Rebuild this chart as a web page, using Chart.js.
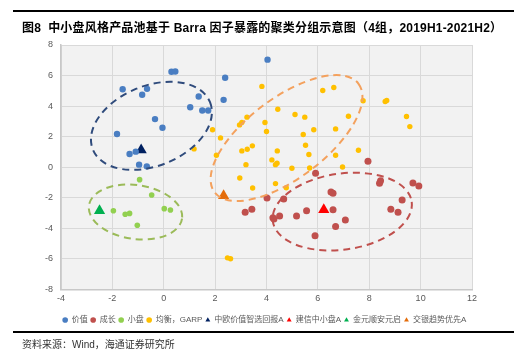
<!DOCTYPE html>
<html><head><meta charset="utf-8">
<script src="https://cdn.jsdelivr.net/npm/chart.js@4"></script>
<style>
html,body{margin:0;padding:0;background:#fff;}
#wrap{position:relative;width:529px;height:358px;overflow:hidden;}
#cw{position:absolute;left:0;top:0;width:529px;height:358px;z-index:1;}
.title{position:absolute;z-index:5;left:22px;top:18px;line-height:14px;font:bold 12px "Liberation Sans","Noto Sans CJK SC",sans-serif;letter-spacing:0.2px;color:#000;white-space:nowrap;}
.line{position:absolute;z-index:5;left:13px;width:501px;height:0;border-top:2px solid #000;}
.src{position:absolute;z-index:5;left:22px;top:336px;line-height:12px;font:10px "Liberation Sans","Noto Sans CJK SC",sans-serif;color:#333;white-space:nowrap;}
</style></head>
<body>
<div id="wrap">
<div id="cw"><canvas id="c"></canvas></div>
<div class="title">图8&nbsp;&nbsp;中小盘风格产品池基于 Barra 因子暴露的聚类分组示意图（4组，2019H1-2021H2）</div>
<div class="line" style="top:331px"></div>
<div class="src">资料来源：Wind，海通证券研究所</div>
</div>
<script>
// ---- data ----
const seriesNames = ["价值","成长","小盘","均衡，GARP","中欧价值智选回报A","建信中小盘A","金元顺安元启","交银趋势优先A"];
const xTicks = [-4,-2,0,2,4,6,8,10,12];
const yTicks = [-8,-6,-4,-2,0,2,4,6,8];

const valuePts = [[0.3,6.25],[0.45,6.27],[-1.6,5.1],[-0.65,5.13],[-0.84,4.74],[2.39,5.86],[2.33,4.41],[1.36,4.63],[1.03,3.93],[1.5,3.71],[1.73,3.71],[-0.34,3.15],[-0.05,2.58],[-1.82,2.18],[-1.33,0.87],[-1.09,1.02],[-0.96,0.17],[-0.66,0.06],[4.04,7.04]];
const growthPts = [[7.95,0.39],[5.91,-0.39],[8.44,-0.88],[8.4,-1.05],[9.7,-1.03],[9.93,-1.23],[6.51,-1.62],[6.59,-1.7],[4.02,-2.01],[4.67,-2.08],[9.28,-2.14],[3.17,-2.95],[3.43,-2.75],[5.56,-2.84],[6.59,-2.78],[8.84,-2.75],[9.12,-2.95],[5.17,-3.19],[4.51,-3.19],[4.29,-3.39],[4.25,-3.3],[7.07,-3.46],[6.69,-3.87],[5.89,-4.48]];
const smallPts = [[-0.94,-0.81],[-0.47,-1.82],[-1.96,-2.85],[-1.5,-3.08],[-1.33,-3.02],[0.02,-2.71],[0.26,-2.8],[-1.03,-3.8]];
const balancedPts = [[3.82,5.29],[6.19,5.02],[6.62,5.22],[7.76,4.35],[8.62,4.3],[8.68,4.37],[4.44,3.8],[5.11,3.45],[5.49,3.28],[7.19,3.34],[3.24,3.28],[3.04,2.93],[2.95,2.77],[3.94,2.93],[4.0,2.34],[1.9,2.45],[5.84,2.45],[6.69,2.51],[5.43,2.14],[2.21,1.92],[5.52,1.44],[3.45,1.4],[3.25,1.18],[3.04,1.07],[4.42,1.07],[7.58,1.11],[2.05,0.79],[5.65,0.83],[6.69,0.79],[4.21,0.48],[4.41,0.26],[4.35,0.17],[3.2,0.17],[4.99,-0.07],[5.68,-0.05],[6.96,0.02],[2.96,-0.7],[3.46,-1.36],[4.35,-1.07],[4.77,-1.34],[1.18,1.2],[9.45,3.32],[9.58,2.66],[2.48,-5.93],[2.6,-5.99]];
const fundZhongou = [[-0.88,1.13]];
const fundJianxin = [[6.23,-2.78]];
const fundJinyuan = [[-2.5,-2.85]];
const fundJiaoyin = [[2.33,-1.86]];

// cluster outline annotations (center in data units, radii in x-units, angle in degrees)
const clusterOutlines = [
  {cx:-0.48, cy:2.71, rx:2.46, ry:1.56, angle:-22, color:'#2F4B7C'},
  {cx:4.78, cy:1.91, rx:3.51, ry:1.56, angle:-37, color:'#F4A15D'},
  {cx:6.95, cy:-2.9, rx:2.73, ry:1.48, angle:-8, color:'#C0504D'},
  {cx:-1.1, cy:-2.93, rx:1.83, ry:1.05, angle:8, color:'#9BBB59'}
];

const toXY = arr => arr.map(p => ({x:p[0], y:p[1]}));

const bgPlugin = {
  id:'bg',
  afterLayout(chart){
    if (chart.legend) { chart.legend.left += 9; chart.legend.right += 9; }
  },
  beforeDraw(chart){
    const {ctx, chartArea:a} = chart;
    ctx.save(); ctx.fillStyle='#F2F2F2';
    ctx.fillRect(a.left, a.top, a.right-a.left, a.bottom-a.top);
    // header rule above the title
    ctx.fillStyle = '#000';
    ctx.fillRect(13, 10, 501, 2);
    ctx.restore();
  }
};
const ellPlugin = {
  id:'ell',
  afterDatasetsDraw(chart){
    const {ctx} = chart; const xs = chart.scales.x, ys = chart.scales.y;
    const u = Math.abs(xs.getPixelForValue(1) - xs.getPixelForValue(0));
    clusterOutlines.forEach(e => {
      ctx.save();
      ctx.strokeStyle = e.color; ctx.lineWidth = 2; ctx.setLineDash([7,5]);
      ctx.beginPath();
      ctx.ellipse(xs.getPixelForValue(e.cx), ys.getPixelForValue(e.cy), e.rx*u, e.ry*u, e.angle*Math.PI/180, 0, Math.PI*2);
      ctx.stroke(); ctx.restore();
    });
  }
};

const font = {family:'"Liberation Sans","Noto Sans CJK SC",sans-serif', size:9};
function ds(label, pts, color, style, r){
  return {label, data:toXY(pts), backgroundColor:color, borderColor:color, borderWidth:0, pointStyle:style, pointRadius:r, pointHoverRadius:r};
}
new Chart(document.getElementById('c'), {
  type:'scatter',
  data:{datasets:[
    ds(seriesNames[0], valuePts, '#4A7EC2', 'circle', 3.2),
    ds(seriesNames[1], growthPts, '#C0504D', 'circle', 3.5),
    ds(seriesNames[2], smallPts, '#92D050', 'circle', 2.8),
    ds(seriesNames[3], balancedPts, '#FFC000', 'circle', 2.7),
    ds(seriesNames[4], fundZhongou, '#002060', 'triangle', 6.5),
    ds(seriesNames[5], fundJianxin, '#FF0000', 'triangle', 6.5),
    ds(seriesNames[6], fundJinyuan, '#00B050', 'triangle', 6.5),
    ds(seriesNames[7], fundJiaoyin, '#E46C0A', 'triangle', 6.5)
  ]},
  options:{
    responsive:true, maintainAspectRatio:false, animation:false,
    layout:{padding:{left:39, right:57, top:45, bottom:24}},
    plugins:{
      legend:{position:'bottom', labels:{usePointStyle:true, boxWidth:5, boxHeight:4, padding:3, color:'#595959', font:{family:font.family, size:8}}},
      tooltip:{enabled:false}
    },
    scales:{
      x:{type:'linear', min:-4, max:12,
        afterBuildTicks(s){ s.ticks = xTicks.map(v=>({value:v})); },
        afterFit(s){ s.height = 23.5; },
        grid:{color:'#D9D9D9', lineWidth:1, drawTicks:false},
        border:{color:'#C8C8C8', width:1.5},
        ticks:{color:'#595959', font, padding:4}
      },
      y:{type:'linear', min:-8, max:8,
        afterBuildTicks(s){ s.ticks = yTicks.map(v=>({value:v})); },
        afterFit(s){ s.width = 22; },
        grid:{color:'#D9D9D9', lineWidth:1, drawTicks:false},
        border:{color:'#C8C8C8', width:1.5},
        ticks:{color:'#595959', font, padding:8}
      }
    }
  },
  plugins:[bgPlugin, ellPlugin]
});
</script>
</body></html>
